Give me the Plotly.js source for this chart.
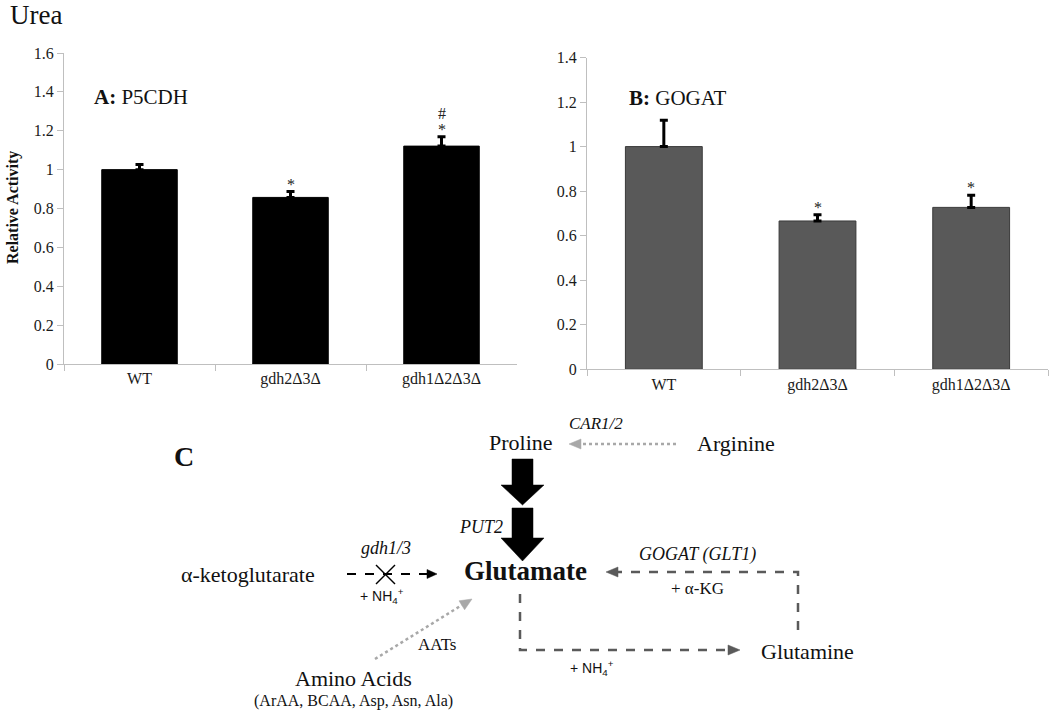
<!DOCTYPE html>
<html>
<head>
<meta charset="utf-8">
<script src="https://cdn.plot.ly/plotly-3.0.1.min.js"></script>
<style>html,body{margin:0;padding:0;background:#fff;}#chart{width:1050px;height:712px;}</style>
</head>
<body>
<div id="chart"></div>
<script>
// ---- Data ----
const categories = ['WT', 'gdh2Δ3Δ', 'gdh1Δ2Δ3Δ'];
const p5cdhValues = [1.0, 0.857, 1.121];
const p5cdhErrors = [0.027, 0.030, 0.048];
const p5cdhStars = ['', '*', '*'];
const p5cdhHash = ['', '', '#'];
const gogatValues = [1.0, 0.666, 0.727];
const gogatErrors = [0.118, 0.028, 0.054];
const gogatStars = ['', '*', '*'];

const W = 1050, H = 712;
const X = v => v / W;
const Y = v => 1 - v / H;
const serif = '"Times New Roman", "Liberation Serif", Times, serif';
const sans = '"Liberation Sans", Arial, sans-serif';

const traces = [
  {
    type: 'bar', x: categories, y: p5cdhValues, xaxis: 'x', yaxis: 'y',
    marker: {color: '#000000', line: {color: '#000000', width: 1}},
    error_y: {type: 'data', symmetric: false, array: p5cdhErrors, arrayminus: p5cdhErrors.map(() => 0),
              color: '#000000', thickness: 3, width: 4},
    hoverinfo: 'x+y'
  },
  {
    type: 'bar', x: categories, y: gogatValues, xaxis: 'x2', yaxis: 'y2',
    marker: {color: '#595959', line: {color: '#3a3a3a', width: 1}},
    error_y: {type: 'data', symmetric: false, array: gogatErrors, arrayminus: gogatErrors.map(() => 0),
              color: '#000000', thickness: 3, width: 4},
    hoverinfo: 'x+y'
  }
];

const axisLine = '#bfbfbf';
const yCommon = {
  showline: true, linecolor: axisLine, linewidth: 1, ticks: 'outside', tickcolor: axisLine, ticklen: 6,
  showgrid: false, zeroline: false, dtick: 0.2, tickfont: {family: serif, size: 16, color: '#1a1a1a'}
};
const xCommon = {
  type: 'category', showline: true, linecolor: axisLine, linewidth: 1, ticks: 'outside', tickcolor: axisLine,
  ticklen: 6, tickson: 'boundaries', showgrid: false, zeroline: false,
  tickfont: {family: serif, size: 16, color: '#1a1a1a'}
};

const annotations = [];
const mkSig = (labels, vals, errs, xr, yr, shift) => {
  labels.forEach((t, i) => {
    if (!t) return;
    annotations.push({x: categories[i], y: vals[i] + errs[i], xref: xr, yref: yr, text: t, showarrow: false,
      yanchor: 'bottom', yshift: shift, font: {family: serif, size: 16, color: '#222'}});
  });
};
mkSig(p5cdhStars, p5cdhValues, p5cdhErrors, 'x', 'y', -3);
mkSig(p5cdhHash, p5cdhValues, p5cdhErrors, 'x', 'y', 13);
mkSig(gogatStars, gogatValues, gogatErrors, 'x2', 'y2', -3);

const txt = (x, y, text, size, opts) => Object.assign({
  x: X(x), y: Y(y), xref: 'paper', yref: 'paper', text: text, showarrow: false,
  xanchor: 'center', yanchor: 'middle', font: {family: serif, size: size, color: '#111'}
}, opts || {});

annotations.push(
  txt(13, 208, '<b>Relative Activity</b>', 16, {textangle: -90}),
  txt(92, 97, '<b>A:</b> P5CDH', 21, {xanchor: 'left'}),
  txt(627, 98, '<b>B:</b> GOGAT', 21, {xanchor: 'left'}),
  txt(172, 456, '<b>C</b>', 28, {xanchor: 'left'}),
  txt(521, 442, 'Proline', 22),
  txt(736, 443, 'Arginine', 22),
  txt(596, 423, '<i>CAR1/2</i>', 17),
  txt(481, 527, '<i>PUT2</i>', 18),
  txt(525, 571, '<b>Glutamate</b>', 27),
  txt(248, 574, 'α-ketoglutarate', 22),
  txt(386, 548, '<i>gdh1/3</i>', 18),
  txt(382, 596, '+ NH<sub>4</sub><sup>+</sup>', 13, {font: {family: sans, size: 14, color: '#111'}}),
  txt(437, 644, 'AATs', 17),
  txt(353, 678, 'Amino Acids', 22),
  txt(353, 701, '(ArAA, BCAA, Asp, Asn, Ala)', 16),
  txt(807, 651, 'Glutamine', 22),
  txt(592, 668, '+ NH<sub>4</sub><sup>+</sup>', 13, {font: {family: sans, size: 14, color: '#111'}}),
  txt(697, 554, '<i>GOGAT (GLT1)</i>', 18),
  txt(697, 588, '+ α-KG', 17)
);

const pathStr = pts => 'M ' + pts.map(p => X(p[0]) + ',' + Y(p[1])).join(' L ');
const poly = (pts, color) => ({type: 'path', xref: 'paper', yref: 'paper', path: pathStr(pts) + ' Z',
  fillcolor: color, line: {color: color, width: 0.5}});
const pline = (pts, color, width, dash) => ({type: 'path', xref: 'paper', yref: 'paper', path: pathStr(pts),
  fillcolor: 'rgba(0,0,0,0)', line: {color: color, width: width, dash: dash}});

const darkGray = '#5a5a5a', lightGray = '#a8a8a8';
const shapes = [
  poly([[512,459],[533,459],[533,485],[544,485],[522.5,505],[501,485],[512,485]], '#000'),
  poly([[512,508],[533,508],[533,538],[544,538],[522.5,561],[501,538],[512,538]], '#000'),
  pline([[676,444],[580,444]], lightGray, 2.5, 'dot'),
  poly([[569,444],[581,439],[581,449]], lightGray),
  pline([[347,574],[428,574]], '#000', 1.8, 'dash'),
  poly([[437,574],[427,569.5],[427,578.5]], '#000'),
  pline([[376,565],[395,584]], '#000', 1.5, 'solid'),
  pline([[376,584],[395,565]], '#000', 1.5, 'solid'),
  pline([[375,659],[462,605]], lightGray, 2.5, 'dot'),
  poly([[472,599],[464.6,609.8],[459.0,600.8]], lightGray),
  pline([[520,594],[520,650],[729,650]], darkGray, 2.5, 'dash'),
  poly([[740,650],[728,645],[728,655]], darkGray),
  pline([[798,630],[798,572],[617,572]], darkGray, 2.5, 'dash'),
  poly([[606,572],[618,567],[618,577]], darkGray)
];

const layout = {
  width: W, height: H, margin: {l: 0, r: 0, t: 0, b: 0}, paper_bgcolor: '#fff', plot_bgcolor: '#fff',
  showlegend: false, bargap: 0.5,
  font: {family: serif},
  title: {text: 'Urea', x: X(10), xanchor: 'left', y: Y(15), yanchor: 'middle',
          font: {family: serif, size: 27, color: '#111'}},
  xaxis: Object.assign({}, xCommon, {domain: [X(64), X(517)], anchor: 'y'}),
  yaxis: Object.assign({}, yCommon, {domain: [Y(364), Y(53)], range: [0, 1.6], anchor: 'x'}),
  xaxis2: Object.assign({}, xCommon, {domain: [X(587), X(1048)], anchor: 'y2'}),
  yaxis2: Object.assign({}, yCommon, {domain: [Y(369.3), Y(57.5)], range: [0, 1.4], anchor: 'x2'}),
  annotations: annotations,
  shapes: shapes
};

Plotly.newPlot('chart', traces, layout, {displayModeBar: false, staticPlot: true});
</script>
</body>
</html>
